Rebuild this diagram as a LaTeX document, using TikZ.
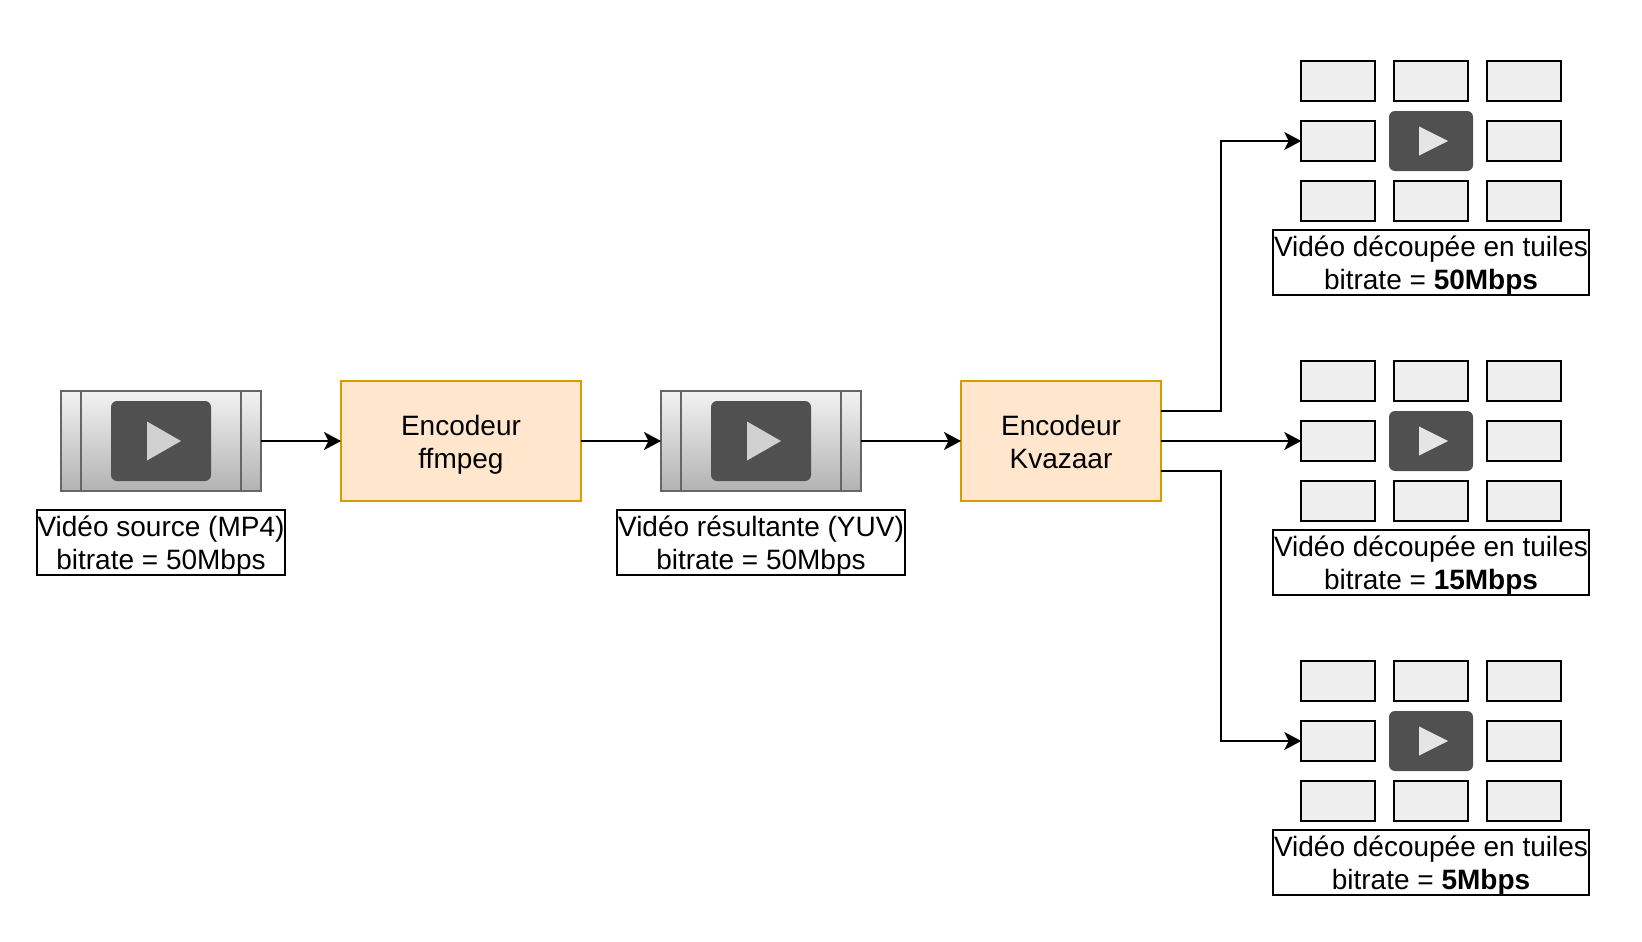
\documentclass[tikz,border=0pt]{standalone}
\usepackage{fontspec}
\setmainfont{Liberation Sans}
\usetikzlibrary{arrows.meta,calc}
\definecolor{orfill}{HTML}{FFE6CC}
\definecolor{ordraw}{HTML}{D79B00}
\definecolor{playdark}{HTML}{505050}
\definecolor{tilefill}{HTML}{EEEEEE}
\definecolor{vidline}{HTML}{666666}
\tikzset{
  every node/.style={font=\fontsize{28}{32.5}\selectfont,text=black,align=center,inner sep=0pt,outer sep=0pt},
  lnk/.style={line width=2pt,-{Stealth[length=17pt,width=18pt,inset=4.5pt]},black},
  encbox/.style={draw=ordraw,fill=orfill,line width=2pt,minimum width=240pt,minimum height=120pt},
  encboxb/.style={encbox,minimum width=200pt},
  vidbox/.style={draw=vidline,line width=2pt,top color=white!95!black,bottom color=black!30,minimum width=200pt,minimum height=100pt},
  playbox/.style={fill=playdark,rounded corners=6pt,minimum width=100pt,minimum height=80pt},
  playboxb/.style={fill=playdark,rounded corners=6pt,minimum width=84pt,minimum height=60pt},
  tile/.style={draw=black,fill=tilefill,line width=2pt,minimum width=74pt,minimum height=39.6pt},
  lab/.style={draw=black,fill=white,line width=2pt,minimum height=65pt}
}
\newcommand{\videoicon}[3]{% name, x, y
  \node[vidbox] (#1) at (#2,#3) {};
  \draw[draw=vidline,line width=2pt] ($(#1.north west)+(20,0)$) -- ($(#1.south west)+(20,0)$);
  \draw[draw=vidline,line width=2pt] ($(#1.north east)+(-20,0)$) -- ($(#1.south east)+(-20,0)$);
  \node[playbox] (#1p) at (#1.center) {};
  \fill[black!18] ($(#1p)+(-14,-19.5)$) -- ($(#1p)+(20,0)$) -- ($(#1p)+(-14,19.5)$) -- cycle;
}
\newcommand{\oneline}[1]{\strut\raisebox{-4.5pt}[0pt][0pt]{#1}}
\newcommand{\twolines}[2]{\oneline{#1}\\ \oneline{#2}}
\newcommand{\tilegrid}[4]{% name, y of centre, label text lines
  \node[tile] (#1a) at (1338.2,#2-60) {};
  \node[tile] (#1b) at (1431,#2-60) {};
  \node[tile] (#1c) at (1524,#2-60) {};
  \node[tile] (#1d) at (1338.2,#2) {};
  \node[playboxb] (#1e) at (1431,#2) {};
  \node[tile] (#1f) at (1524,#2) {};
  \node[tile] (#1g) at (1338.2,#2+60) {};
  \node[tile] (#1h) at (1431,#2+60) {};
  \node[tile] (#1i) at (1524,#2+60) {};
  \fill[black!10] ($(#1e)+(-12,-14.5)$) -- ($(#1e)+(17,0)$) -- ($(#1e)+(-12,14.5)$) -- cycle;
  \node[lab,minimum width=316pt] (#1l) at (1431,#2+121) {\twolines{#3}{#4}};
}
\begin{document}
\begin{tikzpicture}[x=1pt,y=-1pt]
\useasboundingbox (0,0) rectangle (1642,942);
\fill[white] (0,0) rectangle (1642,942);
\videoicon{va}{161}{441}
\node[lab,minimum width=248pt] (la) at (161,542) {\twolines{Vidéo source (MP4)}{bitrate = 50Mbps}};
\node[encbox] (ea) at (461,441) {\twolines{Encodeur}{ffmpeg}};
\videoicon{vb}{761}{441}
\node[lab,minimum width=288pt] (lb) at (761,542) {\twolines{Vidéo résultante (YUV)}{bitrate = 50Mbps}};
\node[encboxb] (eb) at (1061,441) {\twolines{Encodeur}{Kvazaar}};
\tilegrid{ta}{141}{Vidéo découpée en tuiles}{bitrate = \textbf{50Mbps}}
\tilegrid{tb}{441}{Vidéo découpée en tuiles}{bitrate = \textbf{15Mbps}}
\tilegrid{tc}{741}{Vidéo découpée en tuiles}{bitrate = \textbf{5Mbps}}
\draw[lnk] (va.east) -- (ea.west);
\draw[lnk] (ea.east) -- (vb.west);
\draw[lnk] (vb.east) -- (eb.west);
\coordinate (bendx) at (1221,0);
\draw[lnk] ($(eb.east)+(0,-30)$) -- ($(bendx |- eb.east)+(0,-30)$) -- (bendx |- tad) -- (tad.west);
\draw[lnk] (eb.east) -- (tbd.west);
\draw[lnk] ($(eb.east)+(0,30)$) -- ($(bendx |- eb.east)+(0,30)$) -- (bendx |- tcd) -- (tcd.west);
\end{tikzpicture}
\end{document}
